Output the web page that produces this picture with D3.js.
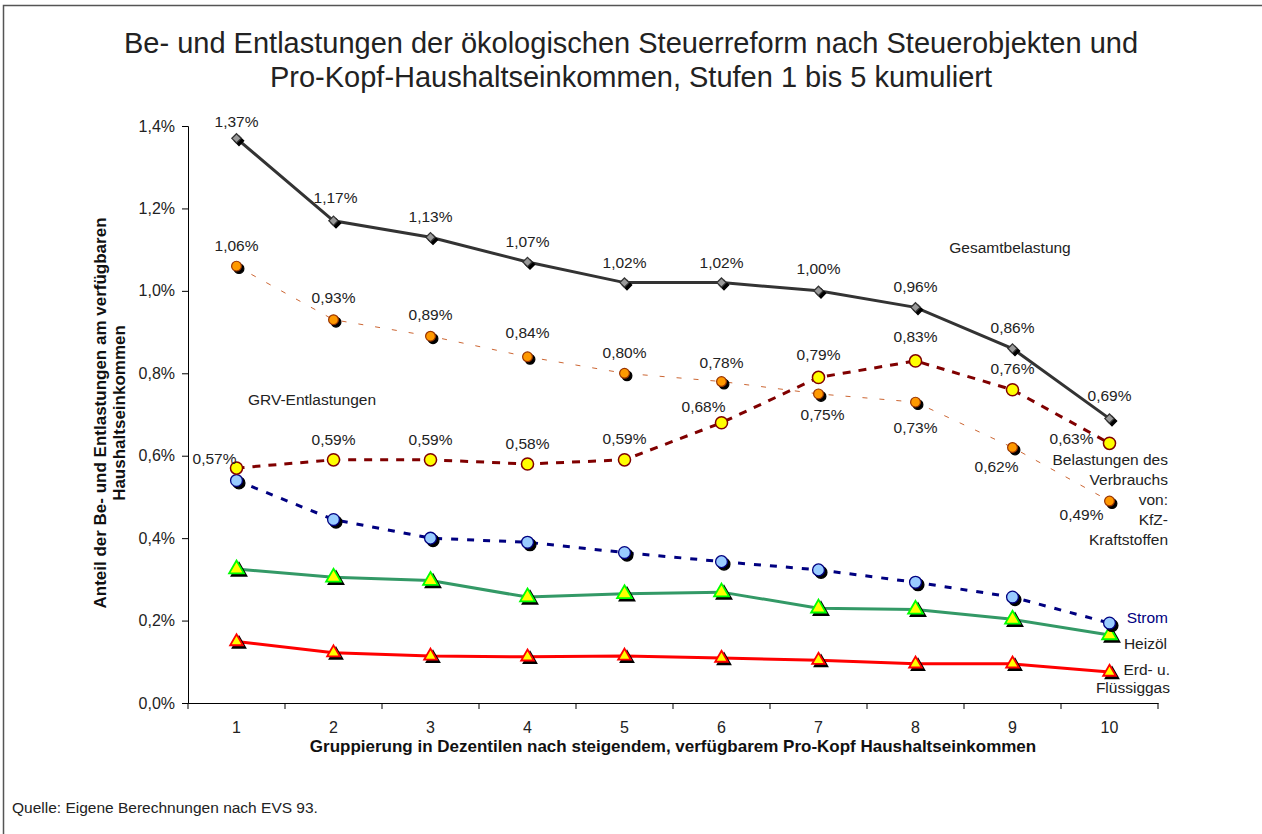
<!DOCTYPE html>
<html>
<head>
<meta charset="utf-8">
<script src="https://cdn.jsdelivr.net/npm/d3@7"></script>
<style>
    body { margin: 0; background: #fff; }
    svg { display: block; font-family: "Liberation Sans", Arial, sans-serif; }
    .axis path, .axis line { stroke: #000; }
    .axis text { font-size: 16px; fill: #222; font-family: "Liberation Sans", Arial, sans-serif; }
</style>
</head>
<body>
<div id="chart"></div>
<script>
// categories (Dezentile)
var dezentile = ["1", "2", "3", "4", "5", "6", "7", "8", "9", "10"];

// series values in percent of disposable income
var gesamt = [1.37, 1.17, 1.13, 1.07, 1.02, 1.02, 1.00, 0.96, 0.86, 0.69];
var kfz = [1.06, 0.93, 0.89, 0.84, 0.80, 0.78, 0.75, 0.73, 0.62, 0.49];
var grv = [0.57, 0.59, 0.59, 0.58, 0.59, 0.68, 0.79, 0.83, 0.76, 0.63];
var strom = [0.54, 0.445, 0.40, 0.39, 0.365, 0.343, 0.323, 0.293, 0.257, 0.194];
var heizoel = [0.325, 0.305, 0.297, 0.257, 0.265, 0.269, 0.230, 0.227, 0.203, 0.165];
var gas = [0.149, 0.122, 0.114, 0.112, 0.114, 0.109, 0.104, 0.095, 0.095, 0.075];

// y axis tick values
var yTicks = [0, 0.2, 0.4, 0.6, 0.8, 1.0, 1.2, 1.4];

// label offsets (dx, dy of label centre) for the labelled series
var gesamtLabelPos = [[0, -17], [2, -23], [0, -21], [0, -20], [0, -20], [0, -20], [0, -22], [0, -21], [0, -21], [0, -23]];
var kfzLabelPos = [[0, -21], [0, -22], [0, -22], [0, -24], [0, -21], [0, -19], [4, 21], [0, 25], [-16, 19], [-28, 14]];
var grvLabelPos = [[-22, -10], [0, -20], [0, -20], [0, -20], [0, -21], [-18, -16], [0, -23], [0, -24], [0, -21], [-38, -5]];

var width = 1262, height = 834;

var svg = d3.select("#chart").append("svg")
    .attr("width", width)
    .attr("height", height);

// outer frame (only top and left visible)
svg.append("rect")
    .attr("x", 3.5).attr("y", 5.5)
    .attr("width", width + 10).attr("height", height + 10)
    .attr("fill", "#fff")
    .attr("stroke", "#555")
    .attr("stroke-width", 1.5);

// title
var title = svg.append("text")
    .attr("text-anchor", "middle")
    .attr("font-size", 29)
    .attr("fill", "#222");
title.append("tspan").attr("x", 631).attr("y", 52.5)
    .text("Be- und Entlastungen der ökologischen Steuerreform nach Steuerobjekten und");
title.append("tspan").attr("x", 631).attr("y", 86.5)
    .text("Pro-Kopf-Haushaltseinkommen, Stufen 1 bis 5 kumuliert");

// scales
var x = d3.scaleBand().domain(dezentile).range([188, 1158]);
var y = d3.scaleLinear().domain([0, 1.4]).range([703, 126]);
var cx = function (i) { return x(dezentile[i]) + x.bandwidth() / 2; };

function fmt(v, n) { return v.toFixed(n).replace(".", ",") + "%"; }

// y axis
svg.append("g")
    .attr("class", "axis")
    .attr("transform", "translate(188,0)")
    .call(d3.axisLeft(y).tickValues(yTicks).tickSizeOuter(0).tickSize(6).tickPadding(7)
        .tickFormat(function (d) { return fmt(d, 1); }));

// x axis (labels centred in bands, ticks at the band edges)
var xAxis = svg.append("g")
    .attr("class", "axis")
    .attr("transform", "translate(0,703)")
    .call(d3.axisBottom(x).tickSize(0).tickSizeOuter(0).tickPadding(19));
xAxis.selectAll(".edge")
    .data(dezentile.concat(["end"]))
    .enter().append("line")
    .attr("class", "edge")
    .attr("x1", function (d, i) { return x.range()[0] + i * x.step(); })
    .attr("x2", function (d, i) { return x.range()[0] + i * x.step(); })
    .attr("y1", 0).attr("y2", 6)
    .attr("stroke", "#000");

// axis titles
svg.append("text")
    .attr("x", 673).attr("y", 752)
    .attr("text-anchor", "middle")
    .attr("font-size", 17).attr("font-weight", "bold").attr("fill", "#111")
    .text("Gruppierung in Dezentilen nach steigendem, verfügbarem Pro-Kopf Haushaltseinkommen");

var yTitle = svg.append("text")
    .attr("transform", "translate(0,413) rotate(-90)")
    .attr("text-anchor", "middle")
    .attr("font-size", 17).attr("font-weight", "bold").attr("fill", "#111");
yTitle.append("tspan").attr("x", 0).attr("y", 106).text("Anteil der Be- und Entlastungen am verfügbaren");
yTitle.append("tspan").attr("x", 0).attr("y", 125).text("Haushaltseinkommen");

// source
svg.append("text")
    .attr("x", 12).attr("y", 813)
    .attr("font-size", 15.5).attr("fill", "#222")
    .text("Quelle: Eigene Berechnungen nach EVS 93.");

// line generator
var line = d3.line()
    .x(function (d, i) { return cx(i); })
    .y(function (d) { return y(d); });

function drawLine(data, color, w, dash) {
    svg.append("path")
        .datum(data)
        .attr("fill", "none")
        .attr("stroke", color)
        .attr("stroke-width", w)
        .attr("stroke-dasharray", dash)
        .attr("d", line);
}

function drawMarkers(data, type, size, fill, stroke, sw, shadow) {
    var sym = d3.symbol().type(type).size(size);
    var g = svg.append("g");
    if (shadow) {
        g.selectAll(".shadow")
            .data(data)
            .enter().append("path")
            .attr("class", "shadow")
            .attr("d", sym)
            .attr("fill", "#000")
            .attr("stroke", "#000")
            .attr("stroke-width", sw)
            .attr("transform", function (d, i) { return "translate(" + (cx(i) + 2.5) + "," + (y(d) + 2.5) + ")"; });
    }
    g.selectAll(".mark")
        .data(data)
        .enter().append("path")
        .attr("class", "mark")
        .attr("d", sym)
        .attr("fill", fill)
        .attr("stroke", stroke)
        .attr("stroke-width", sw)
        .attr("transform", function (d, i) { return "translate(" + cx(i) + "," + y(d) + ")"; });
}

function drawLabels(data, pos) {
    svg.append("g").selectAll("text")
        .data(data)
        .enter().append("text")
        .attr("x", function (d, i) { return cx(i) + pos[i][0]; })
        .attr("y", function (d, i) { return y(d) + pos[i][1]; })
        .attr("dy", "0.35em")
        .attr("text-anchor", "middle")
        .attr("font-size", 15.5)
        .attr("fill", "#222")
        .text(function (d) { return fmt(d, 2); });
}

// lines
drawLine(gas, "#ff0000", 3, null);
drawLine(heizoel, "#339966", 3, null);
drawLine(strom, "#000080", 3, "7,9");
drawLine(kfz, "#cc6633", 1, "5,12");
drawLine(grv, "#800000", 3, "8,8");
drawLine(gesamt, "#333333", 3, null);

// markers
var diamond = d3.symbolDiamond2 || d3.symbolDiamond;
drawMarkers(gas, d3.symbolTriangle, 70, "#ffff00", "#ff0000", 1.8, true);
drawMarkers(heizoel, d3.symbolTriangle, 95, "#ffff00", "#00ff00", 1.8, true);
drawMarkers(strom, d3.symbolCircle, 110, "#99ccff", "#000080", 1.3, true);
drawMarkers(kfz, d3.symbolCircle, 75, "#ff9900", "#993300", 1.2, true);
drawMarkers(grv, d3.symbolCircle, 115, "#ffff00", "#800000", 1.5, false);
drawMarkers(gesamt, diamond, 55, "#999999", "#333333", 1.3, true);

// data labels
drawLabels(gesamt, gesamtLabelPos);
drawLabels(kfz, kfzLabelPos);
drawLabels(grv, grvLabelPos);

// series names
function seriesText(lines, xPos, yPos, anchor, color, lh) {
    var t = svg.append("text")
        .attr("text-anchor", anchor)
        .attr("font-size", 15.5)
        .attr("fill", color);
    lines.forEach(function (l, i) {
        t.append("tspan").attr("x", xPos).attr("y", yPos + i * lh).attr("dy", "0.35em").text(l);
    });
}

seriesText(["Gesamtbelastung"], 1010, 248, "middle", "#222", 19);
seriesText(["GRV-Entlastungen"], 312, 400, "middle", "#222", 19);
seriesText(["Belastungen des", "Verbrauchs", "von:", "KfZ-", "Kraftstoffen"], 1168, 460, "end", "#222", 19.8);
seriesText(["Strom"], 1168, 618, "end", "#000080", 19);
seriesText(["Heizöl"], 1167, 644, "end", "#222", 19);
seriesText(["Erd- u.", "Flüssiggas"], 1170, 670, "end", "#222", 18);
</script>
</body>
</html>
